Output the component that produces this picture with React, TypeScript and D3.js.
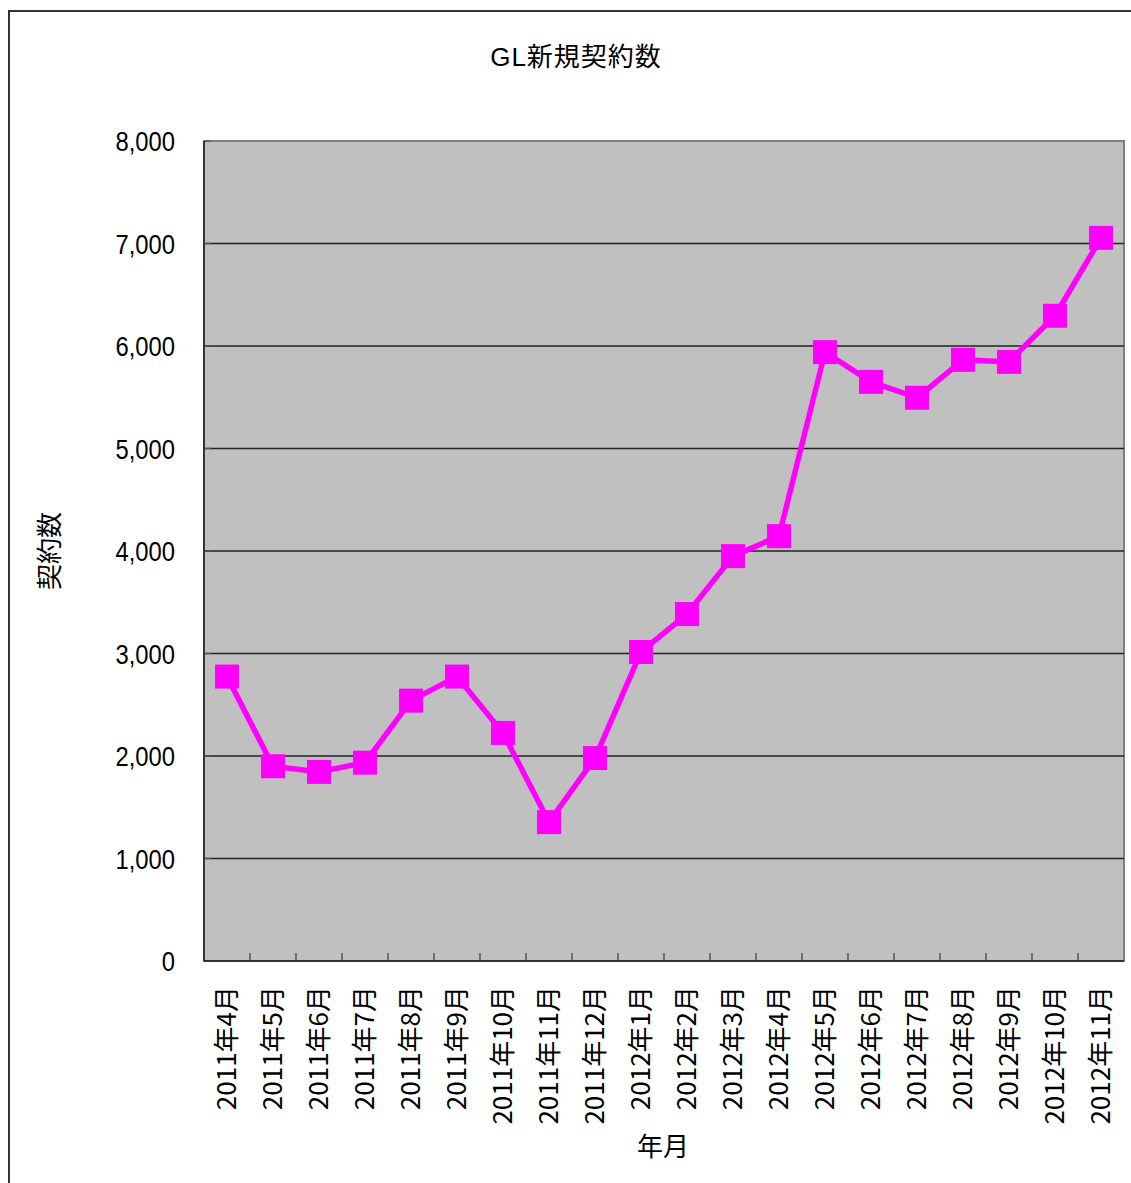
import React from "react";
import * as d3 from "d3";

const categories = [
  "2011年4月", "2011年5月", "2011年6月", "2011年7月", "2011年8月", "2011年9月",
  "2011年10月", "2011年11月", "2011年12月", "2012年1月", "2012年2月", "2012年3月",
  "2012年4月", "2012年5月", "2012年6月", "2012年7月", "2012年8月", "2012年9月",
  "2012年10月", "2012年11月",
];
const contracts = [
  2775, 1900, 1845, 1935, 2540, 2775, 2225, 1355, 1980, 3015, 3385, 3950,
  4145, 5940, 5650, 5495, 5865, 5845, 6295, 7055,
];
const yTicks = [0, 1000, 2000, 3000, 4000, 5000, 6000, 7000, 8000];

const W = 1131;
const H = 1183;
const plot = { left: 204, right: 1124, top: 141, bottom: 961 };
const FONT = "'Noto Sans CJK JP', 'Noto Sans', sans-serif";
const NUMFONT = "'Liberation Sans', Arial, sans-serif";
const TITLEFONT = "'Liberation Sans', 'Noto Sans CJK JP', sans-serif";

export default function App() {
  const x = d3
    .scaleBand<string>()
    .domain(categories)
    .range([plot.left, plot.right])
    .paddingInner(0)
    .paddingOuter(0);
  const y = d3.scaleLinear().domain([0, 8000]).range([plot.bottom, plot.top]);
  const fmt = d3.format(",");
  const cx = (c: string) => (x(c) as number) + x.bandwidth() / 2;

  const line = d3
    .line<number>()
    .x((_, i) => cx(categories[i]))
    .y((d) => y(d));

  const marker = 24;

  return (
    <svg
      width={W}
      height={H}
      style={{ position: "absolute", left: 0, top: 0, background: "#fff" }}
      fontFamily={FONT}
    >
      {/* outer chart border */}
      <rect x={9} y={11} width={1160} height={1200} fill="#fff" stroke="#333" strokeWidth={2} />

      {/* title */}
      <text x={576} y={66} textAnchor="middle" fontSize={26} letterSpacing={1} fill="#000" fontFamily={TITLEFONT}>
        GL新規契約数
      </text>

      {/* plot background */}
      <rect
        x={plot.left}
        y={plot.top}
        width={plot.right - plot.left}
        height={plot.bottom - plot.top}
        fill="#c0c0c0"
        stroke="#808080"
        strokeWidth={2}
      />

      {/* gridlines */}
      {yTicks
        .filter((t) => t > 0 && t < 8000)
        .map((t) => (
          <line
            key={"g" + t}
            x1={plot.left}
            x2={plot.right}
            y1={y(t)}
            y2={y(t)}
            stroke="#222"
            strokeWidth={1.3}
          />
        ))}

      {/* y tick marks (inside) */}
      {yTicks.map((t) => (
        <line
          key={"yt" + t}
          x1={plot.left}
          x2={plot.left + 7}
          y1={y(t)}
          y2={y(t)}
          stroke="#555"
          strokeWidth={1.3}
        />
      ))}

      {/* x tick marks (inside) */}
      {categories.slice(1).map((c) => (
        <line
          key={"xt" + c}
          x1={x(c) as number}
          x2={x(c) as number}
          y1={plot.bottom}
          y2={plot.bottom - 8}
          stroke="#444"
          strokeWidth={1.3}
        />
      ))}

      {/* axes */}
      <line x1={plot.left} x2={plot.left} y1={plot.top} y2={plot.bottom} stroke="#333" strokeWidth={2} />
      <line x1={plot.left} x2={plot.right} y1={plot.bottom} y2={plot.bottom} stroke="#333" strokeWidth={2} />

      {/* y tick labels */}
      {yTicks.map((t) => (
        <text
          key={"yl" + t}
          transform={`translate(${175},${y(t)}) scale(0.85,1)`}
          dy="0.36em"
          textAnchor="end"
          fontSize={28}
          fill="#000"
          fontFamily={NUMFONT}
        >
          {fmt(t)}
        </text>
      ))}

      {/* x tick labels */}
      {categories.map((c) => (
        <text
          key={"xl" + c}
          transform={`translate(${cx(c)},${986}) rotate(-90)`}
          dy="0.36em"
          textAnchor="end"
          fontSize={26}
          fill="#000"
        >
          {c}
        </text>
      ))}

      {/* axis titles */}
      <text
        transform={`translate(${50},${551}) rotate(-90)`}
        dy="0.36em"
        textAnchor="middle"
        fontSize={26}
        fill="#000"
      >
        契約数
      </text>
      <text x={663} y={1147} dy="0.36em" textAnchor="middle" fontSize={26} fill="#000">
        年月
      </text>

      {/* series line */}
      <path d={line(contracts) || ""} fill="none" stroke="#ff00ff" strokeWidth={5.5} strokeLinejoin="round" />

      {/* markers */}
      {contracts.map((v, i) => (
        <rect
          key={"m" + i}
          x={cx(categories[i]) - marker / 2}
          y={y(v) - marker / 2}
          width={marker}
          height={marker}
          fill="#ff00ff"
        />
      ))}
    </svg>
  );
}
